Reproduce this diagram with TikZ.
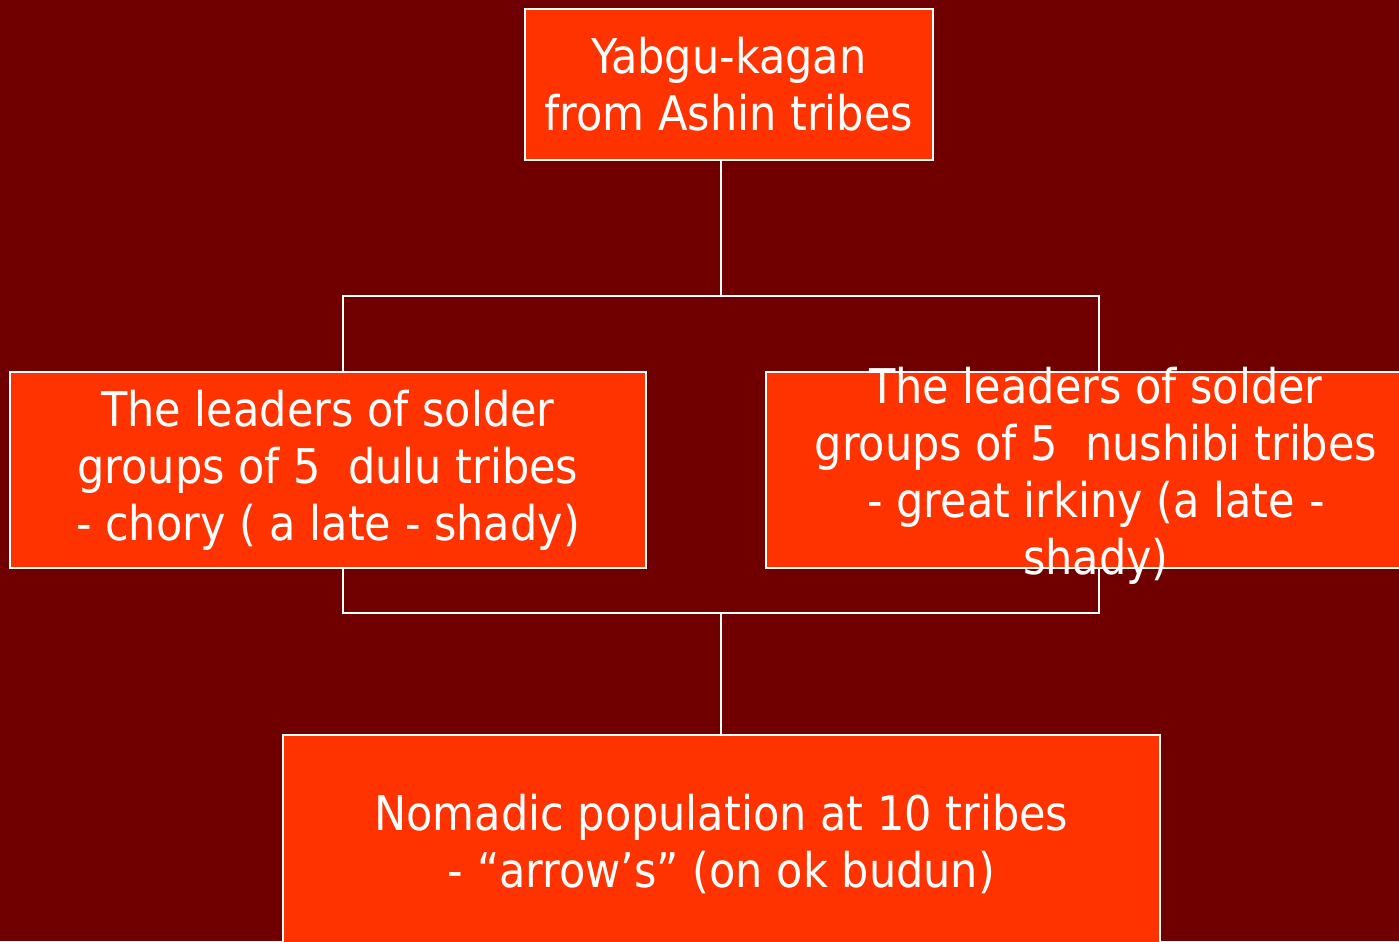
\documentclass[tikz,border=0pt]{standalone}
\usepackage{fontspec}
\setmainfont{DejaVu Sans Condensed}
\usetikzlibrary{positioning}
\definecolor{backdrop}{RGB}{112,0,0}
\definecolor{flame}{RGB}{255,51,0}
\tikzset{
  rank/.style={draw=white, line width=0.6pt, fill=flame, text=white,
    align=center, inner sep=0pt, font=\fontsize{13.6}{16.2}\selectfont},
  ranktext/.style={text=white, align=center, inner sep=0pt,
    font=\fontsize{13.6}{16.2}\selectfont},
  link/.style={draw=white, line width=0.6pt}
}
\begin{document}
\begin{tikzpicture}[x=0.01cm, y=-0.01cm]
\fill[backdrop] (0,0) rectangle (1399,941);
\useasboundingbox (0,0) rectangle (1399,941);
\clip (0,0) rectangle (1399,941);

\node[rank, minimum width=4.08cm, minimum height=1.51cm] (kagan) at (729,84.5)
  {Yabgu-kagan\\from Ashin tribes};
\node[rank, minimum width=6.36cm, minimum height=1.96cm] (dulu) at (328,470)
  {The leaders of solder\\groups of 5\ \ dulu tribes\\- chory ( a late - shady)};
\node[rank, minimum width=6.60cm, minimum height=1.96cm] (nushibi) at (1096,470) {};
% text runs out of the box, as on the slide
\node[ranktext] (nushibitext) at ([yshift=-0.06cm]nushibi.center)
  {The leaders of solder\\groups of 5\ \ nushibi tribes\\- great irkiny (a late -\\shady)};
\node[rank, minimum width=8.77cm, minimum height=2.18cm] (nomad) at (721.5,844)
  {Nomadic population at 10 tribes\\- “arrow’s” (on ok budun)};

\coordinate (split) at (721,296);
\coordinate (merge) at (721,613);
\coordinate (lfork) at (343,296);
\coordinate (rfork) at (1099,296);

\draw[link] (split |- kagan.south) -- (split);
\draw[link] (lfork |- dulu.north) -- (lfork) -- (rfork) -- (rfork |- nushibi.north);
\draw[link] (lfork |- dulu.south) -- (lfork |- merge) -- (rfork |- merge)
  -- (rfork |- nushibi.south);
\draw[link] (merge) -- (merge |- nomad.north);
\end{tikzpicture}
\end{document}
